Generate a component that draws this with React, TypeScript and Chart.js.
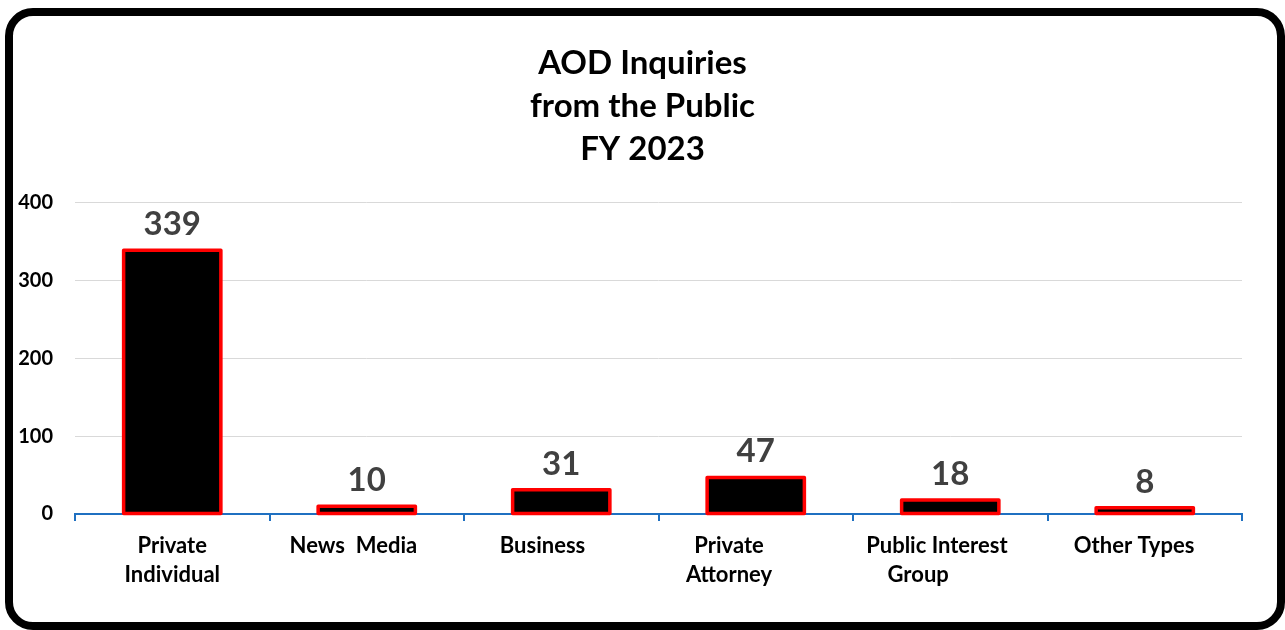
import React, { useEffect, useRef } from "react";
import { Chart, registerables } from "chart.js";

Chart.register(...registerables);

const categories: (string | string[])[] = [
  ["Private", "Individual"],
  "News  Media     ",
  "Business       ",
  ["Private          ", "Attorney          "],
  ["Public Interest     ", "Group            "],
  "Other Types    ",
];
const inquiries: number[] = [339, 10, 31, 47, 18, 8];
const yTickValues: number[] = [0, 100, 200, 300, 400];
const titleLines: string[] = ["AOD Inquiries", "from the Public", "FY 2023"];

const FONT = "Lato";
const AXIS_BLUE = "#1f70c1";

const barOutline = {
  id: "barOutline",
  afterDatasetsDraw(chart: any) {
    const ctx = chart.ctx;
    const meta = chart.getDatasetMeta(0);
    ctx.save();
    ctx.strokeStyle = "#ff0000";
    ctx.lineWidth = 3.5;
    ctx.lineJoin = "round";
    meta.data.forEach((el: any) => {
      const { x, y, base, width } = el.getProps(["x", "y", "base", "width"], true);
      ctx.strokeRect(x - width / 2, y, width, base - y);
    });
    ctx.fillStyle = "#404040";
    ctx.font = `bold 33px ${FONT}`;
    ctx.textAlign = "center";
    ctx.textBaseline = "alphabetic";
    meta.data.forEach((el: any, i: number) => {
      const { x, y } = el.getProps(["x", "y"], true);
      ctx.fillText(String(inquiries[i]), x, y - 15);
    });
    ctx.restore();
  },
};

export default function App() {
  const ref = useRef<HTMLCanvasElement | null>(null);
  useEffect(() => {
    if (!ref.current) return;
    const chart = new Chart(ref.current, {
      type: "bar",
      data: {
        labels: categories,
        datasets: [
          {
            data: inquiries,
            backgroundColor: "#000000",
            borderWidth: 0,
            barPercentage: 0.5,
            categoryPercentage: 1,
            yAxisID: "y",
          },
        ],
      },
      options: {
        responsive: false,
        animation: false,
        layout: { padding: { left: 0, right: 0, top: 0, bottom: 0 } },
        plugins: {
          legend: { display: false },
          tooltip: { enabled: false },
          title: {
            display: true,
            text: titleLines,
            color: "#000000",
            font: { family: FONT, weight: "bold", size: 33, lineHeight: 1.3 },
            padding: { top: 42, bottom: 32 },
          },
        },
        scales: {
          x: {
            offset: true,
            grid: {
              offset: true,
              drawOnChartArea: false,
              drawTicks: true,
              tickLength: 7,
              color: AXIS_BLUE,
              lineWidth: 2,
            },
            border: { display: true, color: AXIS_BLUE, width: 2 },
            ticks: {
              padding: 10,
              color: "#000000",
              maxRotation: 0,
              autoSkip: false,
              font: { family: FONT, weight: "bold", size: 22, lineHeight: 1.32 },
            },
            afterFit: (s: any) => {
              s.height = 116;
            },
          },
          y: {
            position: "left",
            min: 0,
            max: 400,
            afterBuildTicks: (s: any) => {
              s.ticks = yTickValues.map((v) => ({ value: v }));
            },
            grid: {
              drawTicks: false,
              lineWidth: 1,
              color: (c: any) => (c.tick && c.tick.value === 0 ? "rgba(0,0,0,0)" : "#d9d9d9"),
            },
            border: { display: false },
            ticks: {
              padding: 22,
              color: "#000000",
              font: { family: FONT, weight: "bold", size: 20 },
            },
            afterFit: (s: any) => {
              s.width = 75;
            },
          },
          yRight: {
            type: "linear",
            position: "right",
            min: 0,
            max: 400,
            grid: { display: false, drawTicks: false },
            border: { display: false },
            ticks: { display: false },
            afterFit: (s: any) => {
              s.width = 43;
            },
          },
        },
      },
      plugins: [barOutline],
    });
    return () => chart.destroy();
  }, []);

  return (
    <div
      style={{
        position: "fixed",
        left: 0,
        top: 0,
        width: 1285,
        height: 630,
        background: "#ffffff",
        overflow: "hidden",
      }}
    >
      <canvas ref={ref} width={1285} height={630} style={{ display: "block" }} />
      <div
        style={{
          position: "absolute",
          left: 5,
          top: 8,
          width: 1280,
          height: 622,
          boxSizing: "border-box",
          border: "8px solid #000000",
          borderRadius: 28,
          pointerEvents: "none",
        }}
      />
    </div>
  );
}
